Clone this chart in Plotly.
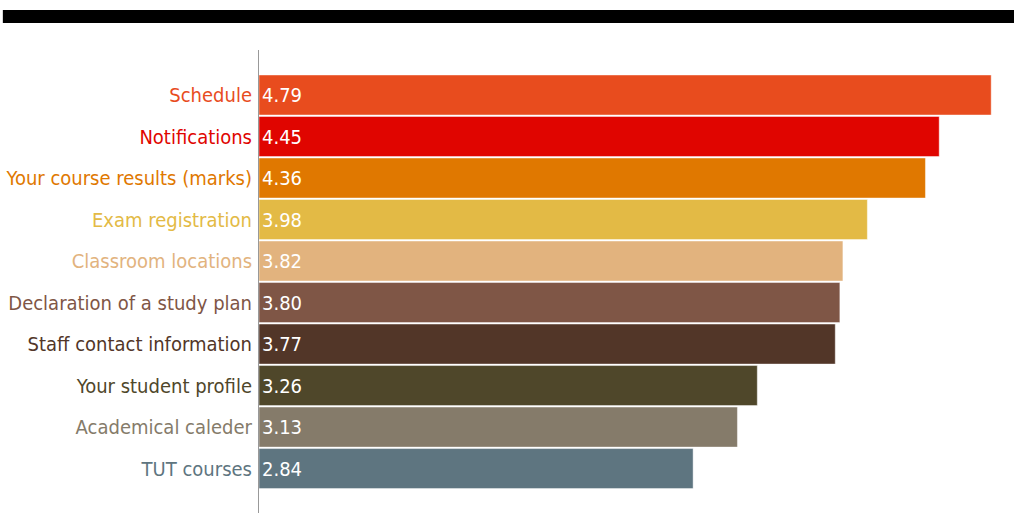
import plotly.graph_objects as go

categories = ["Schedule", "Notifications", "Your course results (marks)", "Exam registration",
              "Classroom locations", "Declaration of a study plan", "Staff contact information",
              "Your student profile", "Academical caleder", "TUT courses"]
values = [4.79, 4.45, 4.36, 3.98, 3.82, 3.80, 3.77, 3.26, 3.13, 2.84]
colors = ["#E84C1E", "#E00500", "#E07800", "#E3BA45", "#E2B37E",
          "#7F5646", "#523628", "#4F472A", "#857B6A", "#5E7580"]

FONT = "DejaVu Sans Condensed, Liberation Sans Narrow, sans-serif"

ticktext = [f'<span style="color:{c}">{t}</span>' for t, c in zip(categories, colors)]

fig = go.Figure(go.Bar(
    x=values,
    y=list(range(len(categories))),
    orientation="h",
    marker=dict(color=colors, line=dict(color="rgba(255,255,255,0.45)", width=1)),
    texttemplate="%{x:.2f}",
    textposition="inside",
    insidetextanchor="start",
    constraintext="none",
    textfont=dict(color="white", size=20, family=FONT),
    hoverinfo="skip",
))

fig.update_layout(
    width=1014, height=513,
    margin=dict(l=259, r=6, t=50, b=0, autoexpand=False),
    paper_bgcolor="white", plot_bgcolor="white",
    showlegend=False,
    bargap=0.035,
    font=dict(family=FONT, size=20),
    xaxis=dict(range=[0, 4.9], visible=False, showgrid=False, zeroline=False),
    yaxis=dict(
        range=[10.07, -1.084],
        tickmode="array",
        tickvals=list(range(len(categories))),
        ticktext=ticktext,
        tickfont=dict(size=20, family=FONT),
        showline=True, linecolor="#999999", linewidth=1,
        showgrid=False, zeroline=False, ticks="",
        ticklabelstandoff=2,
        automargin=False,
    ),
    shapes=[dict(type="rect", xref="paper", yref="paper",
                 x0=-0.342, x1=1.01, y0=1.0583, y1=1.0864,
                 fillcolor="black", line=dict(width=0), layer="above")],
)

fig.write_html("out.html")
